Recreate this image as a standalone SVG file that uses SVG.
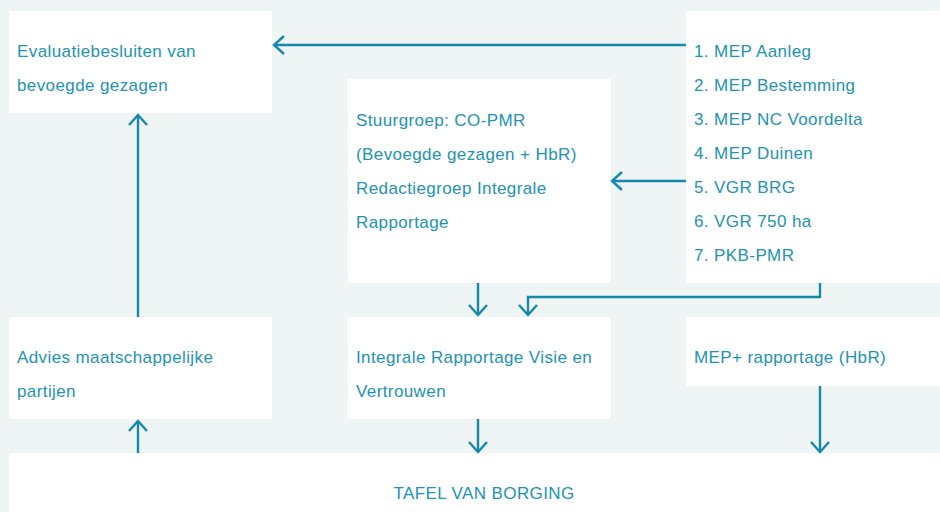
<svg xmlns="http://www.w3.org/2000/svg" width="940" height="512" viewBox="0 0 940 512">
<defs>
<style>
.box{fill:#ffffff}
.t{font-family:"Liberation Sans",Arial,sans-serif;font-size:17px;letter-spacing:0.4px;fill:#2293b3}
.c{stroke:#1688a8;stroke-width:2.4;fill:none}
</style>
<marker id="ah" viewBox="0 0 20 20" refX="18" refY="10" markerWidth="20" markerHeight="20" markerUnits="userSpaceOnUse" orient="auto">
<path d="M8,1 L18,10 L8,19" fill="none" stroke="#1688a8" stroke-width="2.4"/>
</marker>
</defs>
<rect width="940" height="512" fill="#eff5f5"/>
<g id="evaluatie"><rect class="box" x="9" y="11" width="263" height="102"/>
<text class="t" x="17" y="57">Evaluatiebesluiten van</text>
<text class="t" x="17" y="91">bevoegde gezagen</text></g>
<g id="stuurgroep"><rect class="box" x="348" y="79" width="263" height="204"/>
<text class="t" x="356" y="126">Stuurgroep: CO-PMR</text>
<text class="t" x="356" y="160">(Bevoegde gezagen + HbR)</text>
<text class="t" x="356" y="194">Redactiegroep Integrale</text>
<text class="t" x="356" y="228">Rapportage</text></g>
<g id="mep"><rect class="box" x="686" y="11" width="254" height="272"/>
<text class="t" x="694" y="57">1. MEP Aanleg</text>
<text class="t" x="694" y="91">2. MEP Bestemming</text>
<text class="t" x="694" y="125">3. MEP NC Voordelta</text>
<text class="t" x="694" y="159">4. MEP Duinen</text>
<text class="t" x="694" y="193">5. VGR BRG</text>
<text class="t" x="694" y="227">6. VGR 750 ha</text>
<text class="t" x="694" y="261">7. PKB-PMR</text></g>
<g id="advies"><rect class="box" x="9" y="317" width="263" height="102"/>
<text class="t" x="17" y="363">Advies maatschappelijke</text>
<text class="t" x="17" y="397">partijen</text></g>
<g id="integrale"><rect class="box" x="348" y="317" width="263" height="102"/>
<text class="t" x="356" y="363">Integrale Rapportage Visie en</text>
<text class="t" x="356" y="397">Vertrouwen</text></g>
<g id="mepplus"><rect class="box" x="686" y="317" width="254" height="69"/>
<text class="t" x="694" y="363">MEP+ rapportage (HbR)</text></g>
<g id="tafel"><rect class="box" x="9" y="453" width="931" height="59"/>
<text class="t" x="484" y="499" text-anchor="middle">TAFEL VAN BORGING</text></g>
<g id="connectors">
<path class="c" d="M686,45 L274,45" marker-end="url(#ah)"/>
<path class="c" d="M686,181 L612,181" marker-end="url(#ah)"/>
<path class="c" d="M138,317 L138,115" marker-end="url(#ah)"/>
<path class="c" d="M138,453 L138,421" marker-end="url(#ah)"/>
<path class="c" d="M478,283 L478,315" marker-end="url(#ah)"/>
<path class="c" d="M820,283 L820,297 L528,297 L528,315" marker-end="url(#ah)"/>
<path class="c" d="M478,419 L478,452" marker-end="url(#ah)"/>
<path class="c" d="M820,386 L820,452" marker-end="url(#ah)"/>
</g>
</svg>
